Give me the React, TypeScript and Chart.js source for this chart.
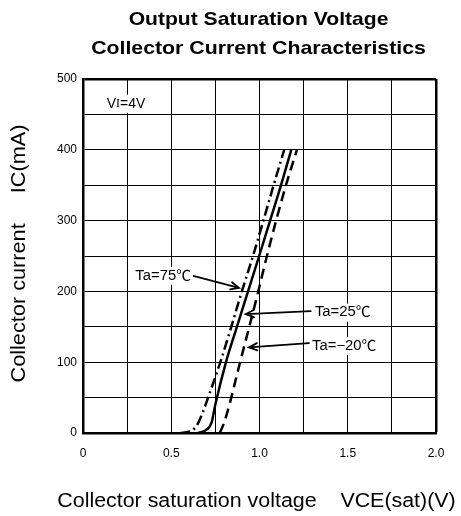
import React, { useEffect, useRef } from "react";
import { Chart, registerables } from "chart.js";

Chart.register(...registerables);

const FONT = '"Liberation Sans", Arial, "Noto Sans CJK JP", sans-serif';

// ---- text ----
const titleLines = ["Output Saturation Voltage", "Collector Current Characteristics"];
const xAxisTitle = "Collector saturation voltage    VCE(sat)(V)";
const yAxisTitle = "Collector current     IC(mA)";

// ---- axes ----
const xMin = 0;
const xMax = 2.0;
const xGridStep = 0.25;
const xLabelStep = 0.5;
const yMin = 0;
const yMax = 500;
const yGridStep = 50;
const yLabelStep = 100;

// ---- series: VCE(sat) [V] vs IC [mA] ----
const ta75V = [0.55, 0.6, 0.63, 0.65, 0.68, 0.716, 0.778, 0.84, 0.9, 0.963, 1.022, 1.08, 1.14];
const ta75I = [0, 2, 6, 13, 30, 55, 100, 150, 200, 250, 300, 350, 400];

const ta25V = [0.65, 0.69, 0.714, 0.73, 0.748, 0.81, 0.872, 0.935, 0.998, 1.06, 1.122, 1.18];
const ta25I = [0, 3, 8, 16, 38, 100, 150, 200, 250, 300, 350, 400];

const taM20V = [0.775, 0.8, 0.835, 0.865, 0.89, 0.942, 0.993, 1.042, 1.094, 1.15, 1.212];
const taM20I = [0, 15, 45, 75, 100, 150, 200, 250, 300, 350, 400];

// ---- annotation labels ----
const labelTexts = ["Ta=75℃", "Ta=25℃", "Ta=−20℃"];
const condition = ["V", "I", "=4V"];

const pts = (xs: number[], ys: number[]) => xs.map((x, i) => ({ x, y: ys[i] }));

// annotation geometry in data units (text anchor, arrow start, arrow tip)
const annotations = [
  { text: labelTexts[0], align: "right", tx: 0.612, ty: 222, ax: 0.625, ay: 222, bx: 0.884, by: 205 },
  { text: labelTexts[1], align: "left", tx: 1.314, ty: 170, ax: 1.29, ay: 172, bx: 0.922, by: 168 },
  { text: labelTexts[2], align: "left", tx: 1.298, ty: 123, ax: 1.28, ay: 127, bx: 0.94, by: 121 },
];
const conditionPos = { x: 0.134, y: 465 };

function drawText(
  ctx: CanvasRenderingContext2D,
  text: string,
  x: number,
  y: number,
  font: string,
  sx: number,
  align: CanvasTextAlign,
  rot = 0
) {
  ctx.save();
  ctx.translate(x, y);
  if (rot) ctx.rotate(rot);
  ctx.scale(sx, 1);
  ctx.font = font;
  ctx.textAlign = align;
  ctx.textBaseline = "middle";
  ctx.fillStyle = "#000";
  ctx.fillText(text, 0, 0);
  ctx.restore();
}

const annotPlugin = {
  id: "annot",
  afterDatasetsDraw(chart: any) {
    const { ctx } = chart;
    const xs = chart.scales.x;
    const ys = chart.scales.y;
    ctx.save();
    ctx.strokeStyle = "#000";
    ctx.fillStyle = "#000";
    ctx.lineWidth = 1.8;
    ctx.lineCap = "round";
    for (const a of annotations) {
      const x0 = xs.getPixelForValue(a.ax);
      const y0 = ys.getPixelForValue(a.ay);
      const x1 = xs.getPixelForValue(a.bx);
      const y1 = ys.getPixelForValue(a.by);
      ctx.beginPath();
      ctx.moveTo(x0, y0);
      ctx.lineTo(x1, y1);
      const ang = Math.atan2(y1 - y0, x1 - x0);
      const L = 9;
      const spread = 0.42;
      ctx.moveTo(x1 - L * Math.cos(ang - spread), y1 - L * Math.sin(ang - spread));
      ctx.lineTo(x1, y1);
      ctx.lineTo(x1 - L * Math.cos(ang + spread), y1 - L * Math.sin(ang + spread));
      ctx.stroke();
    }
    const sxA = 1.06;
    const fA = `14px ${FONT}`;
    ctx.font = fA;
    for (const a of annotations) {
      const tx = xs.getPixelForValue(a.tx);
      const ty = ys.getPixelForValue(a.ty);
      const w = ctx.measureText(a.text).width * sxA;
      const left = a.align === "right" ? tx - w : tx;
      ctx.fillStyle = "#fff";
      ctx.fillRect(left - 2, ty - 9, w + 4, 18);
      drawText(ctx, a.text, left, ty, fA, sxA, "left");
    }
    // condition label VI=4V
    const cx = xs.getPixelForValue(conditionPos.x);
    const cy = ys.getPixelForValue(conditionPos.y);
    const fonts = [`14px ${FONT}`, `12px "Liberation Serif", serif`, `14px ${FONT}`];
    let tot = 0;
    const widths = condition.map((t, i) => {
      ctx.font = fonts[i];
      const w = ctx.measureText(t).width;
      tot += w;
      return w;
    });
    ctx.fillStyle = "#fff";
    ctx.fillRect(cx - 3, cy - 9, tot + 6, 18);
    let px = cx;
    condition.forEach((t, i) => {
      drawText(ctx, t, px, cy + (i === 1 ? 0.5 : 0), fonts[i], 1, "left");
      px += widths[i];
    });
    ctx.restore();
  },
  afterDraw(chart: any) {
    const { ctx, chartArea } = chart;
    const cxMid = (chartArea.left + chartArea.right) / 2;
    const cyMid = (chartArea.top + chartArea.bottom) / 2;
    // chart title (two lines)
    const fT = `bold 19px ${FONT}`;
    drawText(ctx, titleLines[0], cxMid - 1, 20, fT, 1.11, "center");
    drawText(ctx, titleLines[1], cxMid - 1, 49, fT, 1.12, "center");
    // axis titles
    const fAx = `20px ${FONT}`;
    drawText(ctx, xAxisTitle, cxMid - 3, 501, fAx, 1.07, "center");
    drawText(ctx, yAxisTitle, 19, cyMid - 2.5, fAx, 1.085, "center", -Math.PI / 2);
  },
};

export default function App() {
  const ref = useRef<HTMLCanvasElement | null>(null);
  useEffect(() => {
    if (!ref.current) return;
    const chart = new Chart(ref.current, {
      type: "line",
      data: {
        datasets: [
          {
            label: labelTexts[0],
            data: pts(ta75V, ta75I),
            borderColor: "#000",
            borderWidth: 2.5,
            borderDash: [10, 4, 2, 4],
            pointRadius: 0,
            cubicInterpolationMode: "monotone",
            fill: false,
          },
          {
            label: labelTexts[1],
            data: pts(ta25V, ta25I),
            borderColor: "#000",
            borderWidth: 2.5,
            pointRadius: 0,
            cubicInterpolationMode: "monotone",
            fill: false,
          },
          {
            label: labelTexts[2],
            data: pts(taM20V, taM20I),
            borderColor: "#000",
            borderWidth: 2.5,
            borderDash: [10, 6],
            pointRadius: 0,
            cubicInterpolationMode: "monotone",
            fill: false,
          },
        ],
      },
      options: {
        animation: false,
        responsive: false,
        maintainAspectRatio: false,
        layout: { padding: { left: 0, right: 25, top: 79, bottom: 0 } },
        plugins: {
          legend: { display: false },
          tooltip: { enabled: false },
          title: { display: false },
        },
        scales: {
          x: {
            type: "linear",
            min: xMin,
            max: xMax,
            afterFit: (s: any) => {
              s.height = 83;
            },
            ticks: {
              stepSize: xGridStep,
              autoSkip: false,
              maxRotation: 0,
              padding: 13,
              color: "#000",
              font: { family: FONT, size: 12 },
              callback: (v: any) => {
                const n = Number(v);
                if (Math.abs(n / xLabelStep - Math.round(n / xLabelStep)) > 1e-6) return "";
                return n === 0 ? "0" : n.toFixed(1);
              },
            },
            grid: {
              color: "#000",
              drawTicks: false,
              lineWidth: (c: any) => (c.tick && Math.abs(c.tick.value - xMax) < 1e-6 ? 2.5 : 1),
            },
            border: { color: "#000", width: 2.5 },
            title: { display: false },
          },
          y: {
            type: "linear",
            min: yMin,
            max: yMax,
            afterFit: (s: any) => {
              s.width = 83;
            },
            ticks: {
              stepSize: yGridStep,
              autoSkip: false,
              padding: 6,
              color: "#000",
              font: { family: FONT, size: 12 },
              callback: (v: any) => (Number(v) % yLabelStep === 0 ? String(v) : ""),
            },
            grid: {
              color: "#000",
              drawTicks: false,
              lineWidth: (c: any) => (c.tick && c.tick.value === yMax ? 2.5 : 1),
            },
            border: { color: "#000", width: 2.5 },
            title: { display: false },
          },
        },
      },
      plugins: [annotPlugin],
    } as any);
    return () => chart.destroy();
  }, []);
  return (
    <div style={{ position: "fixed", left: 0, top: 0, width: 461, height: 516, background: "#fff" }}>
      <canvas ref={ref} width={461} height={516} style={{ display: "block" }} />
    </div>
  );
}
